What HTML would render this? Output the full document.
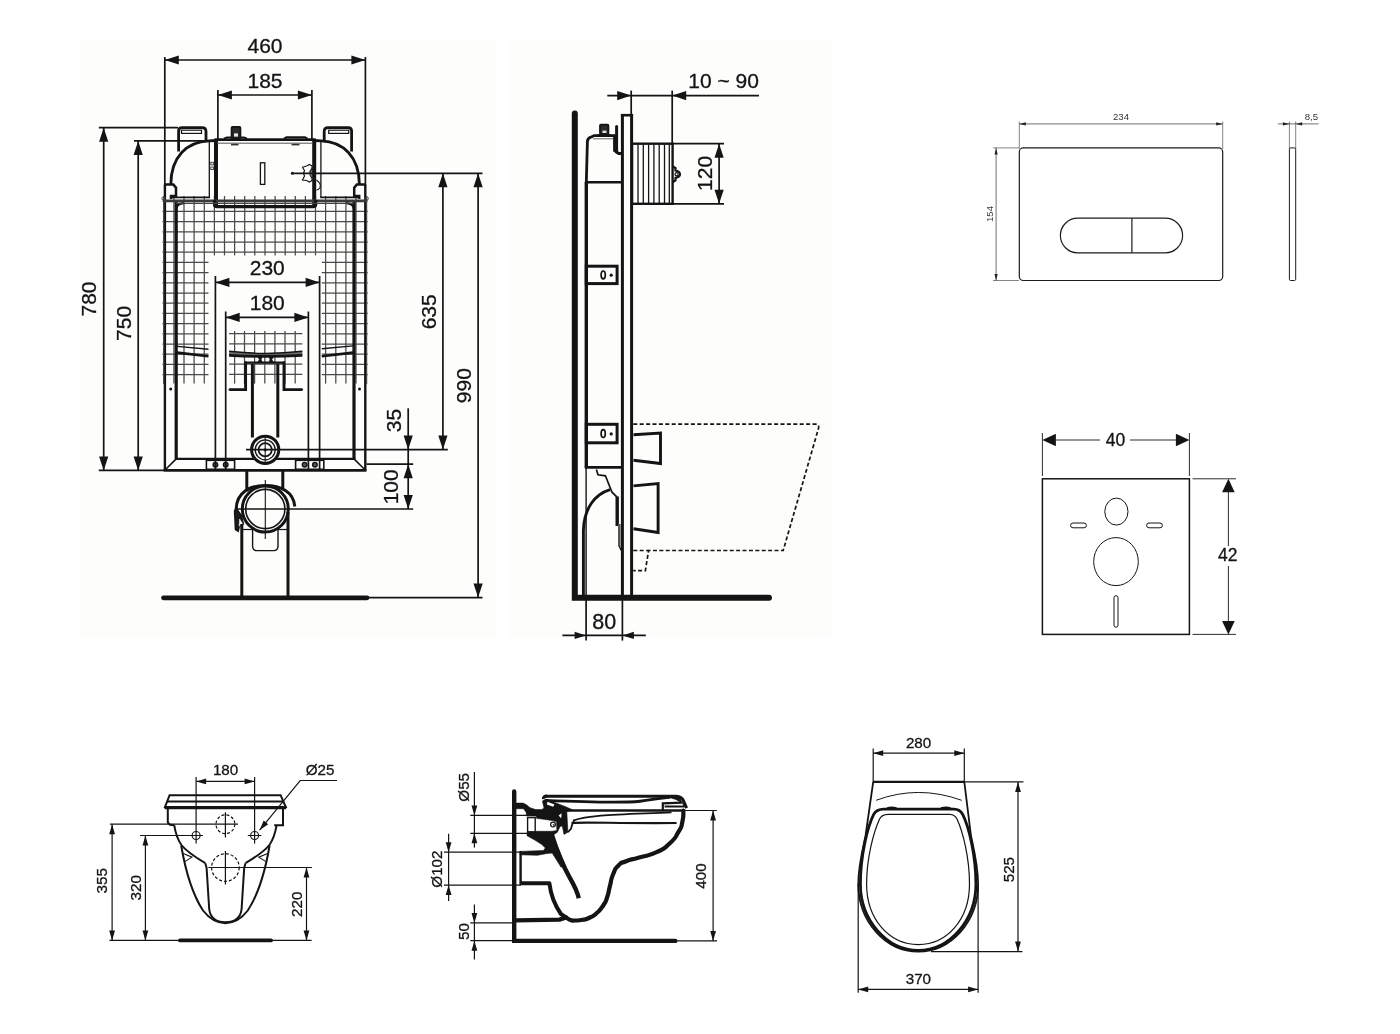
<!DOCTYPE html>
<html><head><meta charset="utf-8"><title>Technical drawing</title>
<style>
html,body{margin:0;padding:0;background:#fff;}
body{width:1400px;height:1034px;overflow:hidden;font-family:"Liberation Sans",sans-serif;}
svg{display:block;filter:blur(0.4px);}
svg text{font-family:"Liberation Sans",sans-serif;}
</style></head><body>
<svg width="1400" height="1034" viewBox="0 0 1400 1034">
<rect x="80.5" y="40" width="416.5" height="598" fill="#fdfdfc"/>
<rect x="509" y="40" width="322" height="598" fill="#fdfdfc"/>
<line x1="162.5" y1="201.2" x2="367.7" y2="201.2" stroke="#4a4a4a" stroke-width="1.25" stroke-linecap="butt" />
<line x1="162.5" y1="211.4" x2="367.7" y2="211.4" stroke="#4a4a4a" stroke-width="1.25" stroke-linecap="butt" />
<line x1="162.5" y1="221.6" x2="367.7" y2="221.6" stroke="#4a4a4a" stroke-width="1.25" stroke-linecap="butt" />
<line x1="162.5" y1="231.8" x2="367.7" y2="231.8" stroke="#4a4a4a" stroke-width="1.25" stroke-linecap="butt" />
<line x1="162.5" y1="242.0" x2="367.7" y2="242.0" stroke="#4a4a4a" stroke-width="1.25" stroke-linecap="butt" />
<line x1="162.5" y1="252.2" x2="367.7" y2="252.2" stroke="#4a4a4a" stroke-width="1.25" stroke-linecap="butt" />
<line x1="162.5" y1="262.4" x2="208.5" y2="262.4" stroke="#4a4a4a" stroke-width="1.25" stroke-linecap="butt" />
<line x1="321.8" y1="262.4" x2="367.7" y2="262.4" stroke="#4a4a4a" stroke-width="1.25" stroke-linecap="butt" />
<line x1="162.5" y1="272.6" x2="208.5" y2="272.6" stroke="#4a4a4a" stroke-width="1.25" stroke-linecap="butt" />
<line x1="321.8" y1="272.6" x2="367.7" y2="272.6" stroke="#4a4a4a" stroke-width="1.25" stroke-linecap="butt" />
<line x1="162.5" y1="282.8" x2="208.5" y2="282.8" stroke="#4a4a4a" stroke-width="1.25" stroke-linecap="butt" />
<line x1="321.8" y1="282.8" x2="367.7" y2="282.8" stroke="#4a4a4a" stroke-width="1.25" stroke-linecap="butt" />
<line x1="162.5" y1="293.0" x2="208.5" y2="293.0" stroke="#4a4a4a" stroke-width="1.25" stroke-linecap="butt" />
<line x1="321.8" y1="293.0" x2="367.7" y2="293.0" stroke="#4a4a4a" stroke-width="1.25" stroke-linecap="butt" />
<line x1="162.5" y1="303.2" x2="208.5" y2="303.2" stroke="#4a4a4a" stroke-width="1.25" stroke-linecap="butt" />
<line x1="321.8" y1="303.2" x2="367.7" y2="303.2" stroke="#4a4a4a" stroke-width="1.25" stroke-linecap="butt" />
<line x1="162.5" y1="313.4" x2="208.5" y2="313.4" stroke="#4a4a4a" stroke-width="1.25" stroke-linecap="butt" />
<line x1="321.8" y1="313.4" x2="367.7" y2="313.4" stroke="#4a4a4a" stroke-width="1.25" stroke-linecap="butt" />
<line x1="162.5" y1="323.6" x2="208.5" y2="323.6" stroke="#4a4a4a" stroke-width="1.25" stroke-linecap="butt" />
<line x1="321.8" y1="323.6" x2="367.7" y2="323.6" stroke="#4a4a4a" stroke-width="1.25" stroke-linecap="butt" />
<line x1="162.5" y1="333.8" x2="208.5" y2="333.8" stroke="#4a4a4a" stroke-width="1.25" stroke-linecap="butt" />
<line x1="321.8" y1="333.8" x2="367.7" y2="333.8" stroke="#4a4a4a" stroke-width="1.25" stroke-linecap="butt" />
<line x1="162.5" y1="344.0" x2="208.5" y2="344.0" stroke="#4a4a4a" stroke-width="1.25" stroke-linecap="butt" />
<line x1="321.8" y1="344.0" x2="367.7" y2="344.0" stroke="#4a4a4a" stroke-width="1.25" stroke-linecap="butt" />
<line x1="162.5" y1="354.2" x2="208.5" y2="354.2" stroke="#4a4a4a" stroke-width="1.25" stroke-linecap="butt" />
<line x1="321.8" y1="354.2" x2="367.7" y2="354.2" stroke="#4a4a4a" stroke-width="1.25" stroke-linecap="butt" />
<line x1="162.5" y1="364.4" x2="208.5" y2="364.4" stroke="#4a4a4a" stroke-width="1.25" stroke-linecap="butt" />
<line x1="321.8" y1="364.4" x2="367.7" y2="364.4" stroke="#4a4a4a" stroke-width="1.25" stroke-linecap="butt" />
<line x1="162.5" y1="374.6" x2="208.5" y2="374.6" stroke="#4a4a4a" stroke-width="1.25" stroke-linecap="butt" />
<line x1="321.8" y1="374.6" x2="367.7" y2="374.6" stroke="#4a4a4a" stroke-width="1.25" stroke-linecap="butt" />
<line x1="173.9" y1="196.0" x2="173.9" y2="383.6" stroke="#4a4a4a" stroke-width="1.25" stroke-linecap="butt" />
<line x1="184.0" y1="196.0" x2="184.0" y2="383.6" stroke="#4a4a4a" stroke-width="1.25" stroke-linecap="butt" />
<line x1="194.1" y1="196.0" x2="194.1" y2="383.6" stroke="#4a4a4a" stroke-width="1.25" stroke-linecap="butt" />
<line x1="204.3" y1="196.0" x2="204.3" y2="383.6" stroke="#4a4a4a" stroke-width="1.25" stroke-linecap="butt" />
<line x1="214.4" y1="196.0" x2="214.4" y2="255.4" stroke="#4a4a4a" stroke-width="1.25" stroke-linecap="butt" />
<line x1="224.5" y1="196.0" x2="224.5" y2="255.4" stroke="#4a4a4a" stroke-width="1.25" stroke-linecap="butt" />
<line x1="234.6" y1="196.0" x2="234.6" y2="255.4" stroke="#4a4a4a" stroke-width="1.25" stroke-linecap="butt" />
<line x1="244.7" y1="196.0" x2="244.7" y2="255.4" stroke="#4a4a4a" stroke-width="1.25" stroke-linecap="butt" />
<line x1="254.8" y1="196.0" x2="254.8" y2="255.4" stroke="#4a4a4a" stroke-width="1.25" stroke-linecap="butt" />
<line x1="265.0" y1="196.0" x2="265.0" y2="255.4" stroke="#4a4a4a" stroke-width="1.25" stroke-linecap="butt" />
<line x1="275.1" y1="196.0" x2="275.1" y2="255.4" stroke="#4a4a4a" stroke-width="1.25" stroke-linecap="butt" />
<line x1="285.2" y1="196.0" x2="285.2" y2="255.4" stroke="#4a4a4a" stroke-width="1.25" stroke-linecap="butt" />
<line x1="295.3" y1="196.0" x2="295.3" y2="255.4" stroke="#4a4a4a" stroke-width="1.25" stroke-linecap="butt" />
<line x1="305.4" y1="196.0" x2="305.4" y2="255.4" stroke="#4a4a4a" stroke-width="1.25" stroke-linecap="butt" />
<line x1="315.5" y1="196.0" x2="315.5" y2="255.4" stroke="#4a4a4a" stroke-width="1.25" stroke-linecap="butt" />
<line x1="325.6" y1="196.0" x2="325.6" y2="383.6" stroke="#4a4a4a" stroke-width="1.25" stroke-linecap="butt" />
<line x1="335.8" y1="196.0" x2="335.8" y2="383.6" stroke="#4a4a4a" stroke-width="1.25" stroke-linecap="butt" />
<line x1="345.9" y1="196.0" x2="345.9" y2="383.6" stroke="#4a4a4a" stroke-width="1.25" stroke-linecap="butt" />
<line x1="356.0" y1="196.0" x2="356.0" y2="383.6" stroke="#4a4a4a" stroke-width="1.25" stroke-linecap="butt" />
<line x1="234.6" y1="331.0" x2="234.6" y2="383.6" stroke="#4a4a4a" stroke-width="1.25" stroke-linecap="butt" />
<line x1="244.5" y1="331.0" x2="244.5" y2="383.6" stroke="#4a4a4a" stroke-width="1.25" stroke-linecap="butt" />
<line x1="254.6" y1="331.0" x2="254.6" y2="383.6" stroke="#4a4a4a" stroke-width="1.25" stroke-linecap="butt" />
<line x1="264.8" y1="331.0" x2="264.8" y2="383.6" stroke="#4a4a4a" stroke-width="1.25" stroke-linecap="butt" />
<line x1="274.9" y1="331.0" x2="274.9" y2="383.6" stroke="#4a4a4a" stroke-width="1.25" stroke-linecap="butt" />
<line x1="285.0" y1="331.0" x2="285.0" y2="383.6" stroke="#4a4a4a" stroke-width="1.25" stroke-linecap="butt" />
<line x1="295.2" y1="331.0" x2="295.2" y2="383.6" stroke="#4a4a4a" stroke-width="1.25" stroke-linecap="butt" />
<line x1="229.1" y1="333.5" x2="302.3" y2="333.5" stroke="#4a4a4a" stroke-width="1.25" stroke-linecap="butt" />
<line x1="229.1" y1="343.9" x2="302.3" y2="343.9" stroke="#4a4a4a" stroke-width="1.25" stroke-linecap="butt" />
<line x1="229.1" y1="353.8" x2="302.3" y2="353.8" stroke="#4a4a4a" stroke-width="1.25" stroke-linecap="butt" />
<line x1="229.1" y1="364.0" x2="302.3" y2="364.0" stroke="#4a4a4a" stroke-width="1.25" stroke-linecap="butt" />
<line x1="229.1" y1="374.4" x2="302.3" y2="374.4" stroke="#4a4a4a" stroke-width="1.25" stroke-linecap="butt" />
<line x1="164.9" y1="184.5" x2="164.9" y2="470.5" stroke="#141414" stroke-width="2.4" stroke-linecap="butt" />
<line x1="365.3" y1="184.5" x2="365.3" y2="470.5" stroke="#141414" stroke-width="2.4" stroke-linecap="butt" />
<line x1="163.6" y1="196.0" x2="163.6" y2="384.0" stroke="#4a4a4a" stroke-width="1.25" stroke-linecap="butt" />
<line x1="366.6" y1="196.0" x2="366.6" y2="384.0" stroke="#4a4a4a" stroke-width="1.25" stroke-linecap="butt" />
<line x1="176.2" y1="200.0" x2="176.2" y2="459.0" stroke="#141414" stroke-width="3.2" stroke-linecap="butt" />
<line x1="354.0" y1="200.0" x2="354.0" y2="459.0" stroke="#141414" stroke-width="3.2" stroke-linecap="butt" />
<line x1="163.7" y1="470.4" x2="366.5" y2="470.4" stroke="#141414" stroke-width="2.6" stroke-linecap="butt" />
<line x1="175.0" y1="458.9" x2="355.2" y2="458.9" stroke="#141414" stroke-width="2.4" stroke-linecap="butt" />
<line x1="176.2" y1="458.9" x2="165.5" y2="469.5" stroke="#141414" stroke-width="1.6" stroke-linecap="butt" />
<line x1="354.0" y1="458.9" x2="364.7" y2="469.5" stroke="#141414" stroke-width="1.6" stroke-linecap="butt" />
<circle cx="170.7" cy="389.0" r="1.5" stroke="#141414" stroke-width="0" fill="#141414" />
<circle cx="359.5" cy="389.0" r="1.5" stroke="#141414" stroke-width="0" fill="#141414" />
<line x1="177.1" y1="346.4" x2="208.5" y2="349.2" stroke="#141414" stroke-width="1.4" stroke-linecap="butt" />
<line x1="177.1" y1="352.6" x2="208.5" y2="356.2" stroke="#141414" stroke-width="2.6" stroke-linecap="butt" />
<line x1="353.0" y1="345.9" x2="321.8" y2="348.7" stroke="#141414" stroke-width="1.4" stroke-linecap="butt" />
<line x1="353.0" y1="352.6" x2="321.8" y2="356.2" stroke="#141414" stroke-width="2.6" stroke-linecap="butt" />
<path d="M178.6,151.5 L178.6,131 Q178.6,127.6 182.0,127.6 L202.0,127.6 Q206.0,127.6 206.0,131.5 L206.0,141" stroke="#141414" stroke-width="2.8" fill="none" />
<rect x="181.5" y="130.2" width="20.0" height="3.2" rx="0" stroke="#141414" stroke-width="1.2" fill="none"/>
<path d="M216.0,140.5 L209.0,140.8 C187.0,141.6 171.0,156.5 170.8,184.5" stroke="#141414" stroke-width="2.8" fill="none" />
<path d="M170.8,184.5 L164.9,184.5 M170.8,184.5 L173.4,184.6 L176.0,187.6 L176.0,196 L171.0,196 L171.0,199" stroke="#141414" stroke-width="2.5" fill="none" />
<line x1="209.3" y1="141.0" x2="209.3" y2="197.2" stroke="#141414" stroke-width="1.3" stroke-linecap="butt" />
<line x1="216.0" y1="140.0" x2="216.0" y2="205.0" stroke="#141414" stroke-width="4.0" stroke-linecap="butt" />
<line x1="172.0" y1="197.3" x2="210.0" y2="197.3" stroke="#141414" stroke-width="1.7" stroke-linecap="butt" />
<circle cx="163.4" cy="198.5" r="1.6" stroke="#444" stroke-width="1.0" fill="none" />
<path d="M176.2,209 Q177.0,203.5 184.0,203.2" stroke="#141414" stroke-width="2.2" fill="none" />
<path d="M351.6,151.5 L351.6,131 Q351.6,127.6 348.2,127.6 L328.2,127.6 Q324.2,127.6 324.2,131.5 L324.2,141" stroke="#141414" stroke-width="2.8" fill="none" />
<rect x="328.7" y="130.2" width="20.0" height="3.2" rx="0" stroke="#141414" stroke-width="1.2" fill="none"/>
<path d="M314.2,140.5 L321.2,140.8 C343.2,141.6 359.2,156.5 359.4,184.5" stroke="#141414" stroke-width="2.8" fill="none" />
<path d="M359.4,184.5 L365.3,184.5 M359.4,184.5 L356.8,184.6 L354.2,187.6 L354.2,196 L359.2,196 L359.2,199" stroke="#141414" stroke-width="2.5" fill="none" />
<line x1="320.9" y1="141.0" x2="320.9" y2="197.2" stroke="#141414" stroke-width="1.3" stroke-linecap="butt" />
<line x1="314.2" y1="140.0" x2="314.2" y2="205.0" stroke="#141414" stroke-width="4.0" stroke-linecap="butt" />
<line x1="358.2" y1="197.3" x2="320.2" y2="197.3" stroke="#141414" stroke-width="1.7" stroke-linecap="butt" />
<circle cx="366.8" cy="198.5" r="1.6" stroke="#444" stroke-width="1.0" fill="none" />
<path d="M354.0,209 Q353.2,203.5 346.2,203.2" stroke="#141414" stroke-width="2.2" fill="none" />
<line x1="214.5" y1="139.6" x2="315.7" y2="139.6" stroke="#141414" stroke-width="2.8" stroke-linecap="butt" />
<line x1="217.0" y1="143.2" x2="313.0" y2="143.2" stroke="#555" stroke-width="1.0" stroke-linecap="butt" />
<path d="M224,138.6 L227,137.3 L244,137.3 L247,138.6" stroke="#141414" stroke-width="1.8" fill="none" />
<path d="M284,138.6 L286.5,137.2 L305,137.2 L307.5,138.6" stroke="#141414" stroke-width="2.0" fill="none" />
<line x1="231.0" y1="144.6" x2="238.5" y2="144.6" stroke="#333" stroke-width="1.6" stroke-linecap="butt" />
<line x1="291.5" y1="144.6" x2="299.5" y2="144.6" stroke="#333" stroke-width="1.6" stroke-linecap="butt" />
<rect x="231.6" y="126.8" width="8.8" height="11.5" rx="1" stroke="#141414" stroke-width="1.8" fill="#2a2a2a"/>
<rect x="234.0" y="133.4" width="4.0" height="3.2" rx="0" stroke="#141414" stroke-width="0" fill="#e8e8e8"/>
<line x1="163.0" y1="200.9" x2="367.0" y2="200.9" stroke="#3a3a3a" stroke-width="2.6" stroke-linecap="butt" />
<path d="M214.5,200 L214.5,204.5 Q214.5,206.6 217,206.6 L313.2,206.6 Q315.7,206.6 315.7,204.5 L315.7,200" stroke="#141414" stroke-width="3.2" fill="none" />
<line x1="176.0" y1="203.4" x2="354.0" y2="203.4" stroke="#444" stroke-width="1.4" stroke-linecap="butt" />
<rect x="260.4" y="162.8" width="4.4" height="21.6" rx="0" stroke="#141414" stroke-width="1.3" fill="none"/>
<circle cx="292.4" cy="173.3" r="1.5" stroke="#141414" stroke-width="0" fill="#141414" />
<path d="M302.5,167.2 L306.5,166 L309.5,164.5 L312,166 L312,180.5 L309.5,182 L306.5,180.5 L302.5,180 L304.5,176 L303.5,173.3 L304.5,170.5 Z" stroke="#141414" stroke-width="1.2" fill="none" />
<path d="M312,168.5 Q307.5,173.3 312,178" stroke="#141414" stroke-width="1.1" fill="none" />
<path d="M316.5,180 Q321.5,183.5 320,187.5 Q318.5,190 316.5,190" stroke="#141414" stroke-width="1.1" fill="none" />
<rect x="210.8" y="162.3" width="2.6" height="2.6" rx="0" stroke="#333" stroke-width="0.9" fill="none"/>
<rect x="210.8" y="167.0" width="2.6" height="2.6" rx="0" stroke="#333" stroke-width="0.9" fill="none"/>
<path d="M229.1,351.3 Q265.7,355.6 302.3,351.3 L302.3,355.6 Q265.7,357.4 229.1,355.6 Z" stroke="none" stroke-width="0" fill="#6a6a6a" />
<path d="M229.1,351.3 Q265.7,355.6 302.3,351.3" stroke="#141414" stroke-width="1.5" fill="none" />
<path d="M229.1,355.4 Q265.7,357.4 302.3,355.4" stroke="#141414" stroke-width="2.6" fill="none" />
<line x1="245.0" y1="362.6" x2="284.6" y2="362.6" stroke="#141414" stroke-width="2.4" stroke-linecap="butt" />
<path d="M257.6,356.8 L262.2,356.8 L261.2,359.6 L262.2,362.4 L257.6,362.4 L259.4,359.6 Z" stroke="#141414" stroke-width="0.6" fill="#141414" />
<path d="M273.6,356.8 L269.0,356.8 L270.0,359.6 L269.0,362.4 L273.6,362.4 L271.8,359.6 Z" stroke="#141414" stroke-width="0.6" fill="#141414" />
<path d="M245.6,362.6 L245.6,389.6 L230,389.6" stroke="#141414" stroke-width="2.9" fill="none" stroke-linecap="round"/>
<path d="M284.0,362.6 L284.0,389.6 L301.6,389.6" stroke="#141414" stroke-width="2.9" fill="none" stroke-linecap="round"/>
<line x1="252.4" y1="364.0" x2="252.4" y2="437.5" stroke="#141414" stroke-width="3.0" stroke-linecap="butt" />
<line x1="277.8" y1="364.0" x2="277.8" y2="437.5" stroke="#141414" stroke-width="3.0" stroke-linecap="butt" />
<circle cx="265.2" cy="449.8" r="13.6" stroke="#141414" stroke-width="3.0" fill="#fdfdfc" />
<circle cx="265.2" cy="449.8" r="10.0" stroke="#141414" stroke-width="1.3" fill="none" />
<circle cx="265.2" cy="449.8" r="6.6" stroke="#141414" stroke-width="1.7" fill="none" />
<circle cx="265.2" cy="449.8" r="1.6" stroke="#141414" stroke-width="0" fill="#141414" />
<line x1="265.2" y1="436.0" x2="265.2" y2="463.5" stroke="#141414" stroke-width="1.1" stroke-linecap="butt" />
<rect x="206.4" y="460.3" width="28.2" height="9.0" rx="0" stroke="#141414" stroke-width="1.6" fill="none"/>
<rect x="295.6" y="460.3" width="28.2" height="9.0" rx="0" stroke="#141414" stroke-width="1.6" fill="none"/>
<circle cx="215.4" cy="464.7" r="2.3" stroke="#141414" stroke-width="1.4" fill="#555" />
<circle cx="225.7" cy="464.7" r="2.3" stroke="#141414" stroke-width="1.4" fill="#555" />
<circle cx="304.6" cy="464.7" r="2.3" stroke="#141414" stroke-width="1.4" fill="#555" />
<circle cx="314.9" cy="464.7" r="2.3" stroke="#141414" stroke-width="1.4" fill="#555" />
<line x1="246.8" y1="470.4" x2="246.8" y2="490.0" stroke="#141414" stroke-width="3.0" stroke-linecap="butt" />
<line x1="282.8" y1="470.4" x2="282.8" y2="490.0" stroke="#141414" stroke-width="3.0" stroke-linecap="butt" />
<path d="M236.2,509 C236.5,492 250,485.6 265.3,485.6 C281,485.6 293.5,492 294.8,506.5" stroke="#141414" stroke-width="3.0" fill="none" />
<circle cx="265.3" cy="509.0" r="23.0" stroke="#141414" stroke-width="3.0" fill="#fdfdfc" />
<circle cx="265.3" cy="509.0" r="19.6" stroke="#141414" stroke-width="1.6" fill="none" />
<line x1="265.3" y1="480.0" x2="265.3" y2="539.0" stroke="#141414" stroke-width="1.1" stroke-linecap="butt" />
<path d="M236.0,508 L234.6,511 L235.5,529.5 L238.2,531.2 L239.2,526.5 L243.3,523.8 L241.3,515.5 Z" stroke="#141414" stroke-width="1.6" fill="#1a1a1a" />
<path d="M239.6,519 L242.4,523.4 L239.2,526.2 Z" stroke="#fdfdfc" stroke-width="0.5" fill="#fdfdfc" />
<line x1="241.8" y1="524.0" x2="241.8" y2="597.0" stroke="#141414" stroke-width="3.0" stroke-linecap="butt" />
<line x1="288.0" y1="512.0" x2="288.0" y2="597.0" stroke="#141414" stroke-width="3.0" stroke-linecap="butt" />
<line x1="241.6" y1="529.5" x2="252.5" y2="529.5" stroke="#141414" stroke-width="1.2" stroke-linecap="butt" />
<line x1="278.0" y1="529.5" x2="288.0" y2="529.5" stroke="#141414" stroke-width="1.2" stroke-linecap="butt" />
<path d="M252.6,528 L252.6,546 Q252.6,550.6 257,550.6 L273.6,550.6 Q278,550.6 278,546 L278,528" stroke="#141414" stroke-width="1.4" fill="none" />
<line x1="163.5" y1="597.8" x2="367.0" y2="597.8" stroke="#141414" stroke-width="4.8" stroke-linecap="round" />
<line x1="164.8" y1="57.0" x2="164.8" y2="186.0" stroke="#141414" stroke-width="1.7" stroke-linecap="butt" />
<line x1="365.4" y1="57.0" x2="365.4" y2="186.0" stroke="#141414" stroke-width="1.7" stroke-linecap="butt" />
<line x1="217.9" y1="90.0" x2="217.9" y2="141.0" stroke="#141414" stroke-width="1.7" stroke-linecap="butt" />
<line x1="311.9" y1="90.0" x2="311.9" y2="141.0" stroke="#141414" stroke-width="1.7" stroke-linecap="butt" />
<line x1="164.8" y1="60.0" x2="365.4" y2="60.0" stroke="#141414" stroke-width="1.7" stroke-linecap="butt" />
<polygon points="164.8,60.0 178.8,55.4 178.8,64.6" fill="#141414"/>
<polygon points="365.4,60.0 351.4,64.6 351.4,55.4" fill="#141414"/>
<line x1="217.9" y1="95.0" x2="311.9" y2="95.0" stroke="#141414" stroke-width="1.7" stroke-linecap="butt" />
<polygon points="217.9,95.0 231.9,90.4 231.9,99.6" fill="#141414"/>
<polygon points="311.9,95.0 297.9,99.6 297.9,90.4" fill="#141414"/>
<text x="265.0" y="52.7" font-size="21" text-anchor="middle" fill="#141414"  stroke="#141414" stroke-width="0.3">460</text>
<text x="265.0" y="88.0" font-size="21" text-anchor="middle" fill="#141414"  stroke="#141414" stroke-width="0.3">185</text>
<line x1="215.4" y1="276.0" x2="215.4" y2="470.0" stroke="#141414" stroke-width="1.7" stroke-linecap="butt" />
<line x1="319.6" y1="276.0" x2="319.6" y2="470.0" stroke="#141414" stroke-width="1.7" stroke-linecap="butt" />
<line x1="225.7" y1="311.5" x2="225.7" y2="470.0" stroke="#141414" stroke-width="1.7" stroke-linecap="butt" />
<line x1="308.4" y1="311.5" x2="308.4" y2="470.0" stroke="#141414" stroke-width="1.7" stroke-linecap="butt" />
<line x1="215.4" y1="282.4" x2="319.6" y2="282.4" stroke="#141414" stroke-width="1.7" stroke-linecap="butt" />
<polygon points="215.4,282.4 229.4,277.8 229.4,287.0" fill="#141414"/>
<polygon points="319.6,282.4 305.6,287.0 305.6,277.8" fill="#141414"/>
<line x1="225.7" y1="317.4" x2="308.4" y2="317.4" stroke="#141414" stroke-width="1.7" stroke-linecap="butt" />
<polygon points="225.7,317.4 239.7,312.8 239.7,322.0" fill="#141414"/>
<polygon points="308.4,317.4 294.4,322.0 294.4,312.8" fill="#141414"/>
<text x="267.3" y="275.4" font-size="21" text-anchor="middle" fill="#141414"  stroke="#141414" stroke-width="0.3">230</text>
<text x="267.3" y="310.2" font-size="21" text-anchor="middle" fill="#141414"  stroke="#141414" stroke-width="0.3">180</text>
<line x1="98.8" y1="127.7" x2="178.0" y2="127.7" stroke="#141414" stroke-width="1.7" stroke-linecap="butt" />
<line x1="134.0" y1="140.9" x2="208.0" y2="140.9" stroke="#141414" stroke-width="1.7" stroke-linecap="butt" />
<line x1="98.8" y1="470.4" x2="164.0" y2="470.4" stroke="#141414" stroke-width="1.7" stroke-linecap="butt" />
<line x1="103.7" y1="127.7" x2="103.7" y2="470.4" stroke="#141414" stroke-width="1.7" stroke-linecap="butt" />
<polygon points="103.7,127.7 108.3,141.7 99.1,141.7" fill="#141414"/>
<polygon points="103.7,470.4 99.1,456.4 108.3,456.4" fill="#141414"/>
<line x1="138.2" y1="140.9" x2="138.2" y2="470.4" stroke="#141414" stroke-width="1.7" stroke-linecap="butt" />
<polygon points="138.2,140.9 142.8,154.9 133.6,154.9" fill="#141414"/>
<polygon points="138.2,470.4 133.6,456.4 142.8,456.4" fill="#141414"/>
<text x="96.2" y="299.0" font-size="21" text-anchor="middle" fill="#141414" transform="rotate(-90 96.2 299.0)"  stroke="#141414" stroke-width="0.3">780</text>
<text x="131.3" y="323.4" font-size="21" text-anchor="middle" fill="#141414" transform="rotate(-90 131.3 323.4)"  stroke="#141414" stroke-width="0.3">750</text>
<line x1="293.0" y1="173.3" x2="482.5" y2="173.3" stroke="#141414" stroke-width="1.7" stroke-linecap="butt" />
<line x1="442.9" y1="173.3" x2="442.9" y2="449.6" stroke="#141414" stroke-width="1.7" stroke-linecap="butt" />
<polygon points="442.9,173.3 447.5,187.3 438.3,187.3" fill="#141414"/>
<polygon points="442.9,449.6 438.3,435.6 447.5,435.6" fill="#141414"/>
<line x1="478.1" y1="173.3" x2="478.1" y2="597.6" stroke="#141414" stroke-width="1.7" stroke-linecap="butt" />
<polygon points="478.1,173.3 482.7,187.3 473.5,187.3" fill="#141414"/>
<polygon points="478.1,597.6 473.5,583.6 482.7,583.6" fill="#141414"/>
<line x1="367.0" y1="597.6" x2="482.5" y2="597.6" stroke="#141414" stroke-width="1.7" stroke-linecap="butt" />
<line x1="246.0" y1="449.6" x2="447.8" y2="449.6" stroke="#141414" stroke-width="1.7" stroke-linecap="butt" />
<line x1="366.5" y1="464.2" x2="413.2" y2="464.2" stroke="#141414" stroke-width="1.7" stroke-linecap="butt" />
<line x1="236.0" y1="509.1" x2="413.2" y2="509.1" stroke="#141414" stroke-width="1.5" stroke-linecap="butt" />
<line x1="408.2" y1="408.3" x2="408.2" y2="509.1" stroke="#141414" stroke-width="1.7" stroke-linecap="butt" />
<polygon points="408.2,449.6 403.6,435.6 412.8,435.6" fill="#141414"/>
<polygon points="408.2,464.2 412.8,478.2 403.6,478.2" fill="#141414"/>
<polygon points="408.2,509.1 403.6,495.1 412.8,495.1" fill="#141414"/>
<text x="436.3" y="311.8" font-size="21" text-anchor="middle" fill="#141414" transform="rotate(-90 436.3 311.8)"  stroke="#141414" stroke-width="0.3">635</text>
<text x="471.5" y="385.7" font-size="21" text-anchor="middle" fill="#141414" transform="rotate(-90 471.5 385.7)"  stroke="#141414" stroke-width="0.3">990</text>
<text x="400.6" y="420.5" font-size="21" text-anchor="middle" fill="#141414" transform="rotate(-90 400.6 420.5)"  stroke="#141414" stroke-width="0.3">35</text>
<text x="398.2" y="486.8" font-size="21" text-anchor="middle" fill="#141414" transform="rotate(-90 398.2 486.8)"  stroke="#141414" stroke-width="0.3">100</text>
<path d="M574.8,113.6 L574.8,597.8 L769.0,597.8" stroke="#141414" stroke-width="6.0" fill="none" stroke-linecap="round" stroke-linejoin="miter"/>
<line x1="622.4" y1="114.5" x2="622.4" y2="597.0" stroke="#141414" stroke-width="3.0" stroke-linecap="butt" />
<line x1="631.6" y1="114.5" x2="631.6" y2="597.0" stroke="#141414" stroke-width="3.0" stroke-linecap="butt" />
<line x1="620.9" y1="115.2" x2="633.1" y2="115.2" stroke="#141414" stroke-width="2.6" stroke-linecap="butt" />
<line x1="586.3" y1="182.0" x2="586.3" y2="467.4" stroke="#141414" stroke-width="3.4" stroke-linecap="butt" />
<line x1="586.1" y1="467.4" x2="586.1" y2="597.0" stroke="#141414" stroke-width="1.4" stroke-linecap="butt" />
<line x1="584.8" y1="467.4" x2="622.4" y2="467.4" stroke="#141414" stroke-width="2.8" stroke-linecap="butt" />
<path d="M586.3,183 L587.4,141.5 Q587.8,137.6 591.5,136.9 L594,135.6 L614.5,135.6 L614.5,150.5 L618.6,153.5 L621,153.5" stroke="#141414" stroke-width="2.8" fill="none" />
<line x1="585.0" y1="182.3" x2="621.0" y2="182.3" stroke="#141414" stroke-width="2.6" stroke-linecap="butt" />
<line x1="593.0" y1="138.8" x2="613.0" y2="138.8" stroke="#666" stroke-width="1.0" stroke-linecap="butt" />
<rect x="600.0" y="124.6" width="8.4" height="9.6" rx="1" stroke="#141414" stroke-width="1.8" fill="#2a2a2a"/>
<rect x="602.5" y="130.6" width="4.0" height="2.4" rx="0" stroke="#141414" stroke-width="0" fill="#ddd"/>
<line x1="597.5" y1="135.2" x2="611.0" y2="135.2" stroke="#141414" stroke-width="2.2" stroke-linecap="butt" />
<line x1="616.6" y1="126.5" x2="616.6" y2="152.0" stroke="#141414" stroke-width="3.0" stroke-linecap="round" />
<rect x="632.0" y="143.7" width="40.6" height="60.1" rx="0" stroke="#141414" stroke-width="2.4" fill="none"/>
<line x1="638.0" y1="144.5" x2="638.0" y2="203.0" stroke="#141414" stroke-width="1.3" stroke-linecap="butt" />
<line x1="643.3" y1="144.5" x2="643.3" y2="203.0" stroke="#141414" stroke-width="1.3" stroke-linecap="butt" />
<line x1="648.6" y1="144.5" x2="648.6" y2="203.0" stroke="#141414" stroke-width="1.3" stroke-linecap="butt" />
<line x1="653.9" y1="144.5" x2="653.9" y2="203.0" stroke="#141414" stroke-width="1.3" stroke-linecap="butt" />
<line x1="659.2" y1="144.5" x2="659.2" y2="203.0" stroke="#141414" stroke-width="1.3" stroke-linecap="butt" />
<line x1="664.5" y1="144.5" x2="664.5" y2="203.0" stroke="#141414" stroke-width="1.3" stroke-linecap="butt" />
<line x1="669.3" y1="144.5" x2="669.3" y2="203.0" stroke="#141414" stroke-width="1.3" stroke-linecap="butt" />
<path d="M673,166.5 L675.5,168 L675.5,170.5 Q680,171.5 680,174.2 Q680,177 675.5,177.8 L675.5,180.5 L673,182" stroke="#141414" stroke-width="2.2" fill="none" />
<circle cx="676.6" cy="174.2" r="1.6" stroke="#141414" stroke-width="1.2" fill="none" />
<rect x="586.3" y="266.2" width="30.8" height="17.4" rx="0" stroke="#141414" stroke-width="3.0" fill="none"/>
<ellipse cx="603.2" cy="274.9" rx="2.1" ry="3.9" stroke="#141414" stroke-width="1.7" fill="none" />
<circle cx="611.2" cy="275.2" r="1.6" stroke="#141414" stroke-width="0" fill="#141414" />
<rect x="586.3" y="424.3" width="30.8" height="18.5" rx="0" stroke="#141414" stroke-width="3.0" fill="none"/>
<ellipse cx="603.2" cy="433.6" rx="2.1" ry="3.9" stroke="#141414" stroke-width="1.7" fill="none" />
<circle cx="611.2" cy="433.9" r="1.6" stroke="#141414" stroke-width="0" fill="#141414" />
<path d="M583.4,597 L583.4,530 C584.2,508 595,494.2 610,489.6" stroke="#141414" stroke-width="2.9" fill="none" />
<path d="M596.4,469.6 L598,474.8 L605.4,475.8 L612,492.2 L617,497.2" stroke="#141414" stroke-width="1.7" fill="none" />
<line x1="617.2" y1="496.5" x2="617.2" y2="526.0" stroke="#141414" stroke-width="3.4" stroke-linecap="butt" />
<line x1="619.3" y1="524.0" x2="619.3" y2="546.5" stroke="#555" stroke-width="2.6" stroke-linecap="butt" />
<path d="M619.3,546 L621,550.2" stroke="#141414" stroke-width="1.4" fill="none" />
<path d="M633.5,434.7 L660.5,433.0 L660.5,463.5 L633.5,460.2" stroke="#141414" stroke-width="2.9" fill="none" />
<path d="M633.5,485.9 L658.1,483.5 L658.1,532.5 L633.5,528.8" stroke="#141414" stroke-width="2.9" fill="none" />
<path d="M633.3,424.2 L815.5,424.2 Q819.2,424.4 818.6,428 L783.2,550.5 L648.6,550.5 L645.4,570.6 L633.3,570.6" stroke="#141414" stroke-width="1.7" fill="none" stroke-dasharray="4 2.4"/>
<line x1="633.3" y1="550.5" x2="648.6" y2="550.5" stroke="#141414" stroke-width="1.7" stroke-linecap="butt" stroke-dasharray="4 2.4"/>
<line x1="631.2" y1="90.6" x2="631.2" y2="115.0" stroke="#141414" stroke-width="1.7" stroke-linecap="butt" />
<line x1="672.2" y1="90.6" x2="672.2" y2="144.0" stroke="#141414" stroke-width="1.7" stroke-linecap="butt" />
<line x1="607.3" y1="95.6" x2="759.0" y2="95.6" stroke="#141414" stroke-width="1.7" stroke-linecap="butt" />
<polygon points="631.2,95.6 617.2,100.2 617.2,91.0" fill="#141414"/>
<polygon points="672.2,95.6 686.2,91.0 686.2,100.2" fill="#141414"/>
<text x="688.3" y="87.9" font-size="21" text-anchor="start" fill="#141414"  stroke="#141414" stroke-width="0.3">10 ~ 90</text>
<line x1="672.6" y1="143.7" x2="724.0" y2="143.7" stroke="#141414" stroke-width="1.7" stroke-linecap="butt" />
<line x1="672.6" y1="203.8" x2="724.0" y2="203.8" stroke="#141414" stroke-width="1.7" stroke-linecap="butt" />
<line x1="719.1" y1="143.7" x2="719.1" y2="203.8" stroke="#141414" stroke-width="1.7" stroke-linecap="butt" />
<polygon points="719.1,143.7 723.7,157.7 714.5,157.7" fill="#141414"/>
<polygon points="719.1,203.8 714.5,189.8 723.7,189.8" fill="#141414"/>
<text x="712.3" y="173.4" font-size="21" text-anchor="middle" fill="#141414" transform="rotate(-90 712.3 173.4)"  stroke="#141414" stroke-width="0.3">120</text>
<line x1="586.1" y1="598.0" x2="586.1" y2="640.6" stroke="#141414" stroke-width="1.7" stroke-linecap="butt" />
<line x1="622.4" y1="598.0" x2="622.4" y2="640.6" stroke="#141414" stroke-width="1.7" stroke-linecap="butt" />
<line x1="562.4" y1="635.4" x2="645.8" y2="635.4" stroke="#141414" stroke-width="1.6" stroke-linecap="butt" />
<polygon points="586.1,635.4 574.6,639.0 574.6,631.8" fill="#141414"/>
<polygon points="622.4,635.4 633.9,631.8 633.9,639.0" fill="#141414"/>
<text x="604.2" y="628.6" font-size="21.5" text-anchor="middle" fill="#141414"  stroke="#141414" stroke-width="0.3">80</text>
<rect x="1019.3" y="147.9" width="203.4" height="132.6" rx="4" stroke="#1c1c1c" stroke-width="1.2" fill="none"/>
<rect x="1060.4" y="218.2" width="122.2" height="34.6" rx="17.3" stroke="#1c1c1c" stroke-width="1.2" fill="none"/>
<line x1="1131.9" y1="218.2" x2="1131.9" y2="252.8" stroke="#1c1c1c" stroke-width="1.2" stroke-linecap="butt" />
<line x1="1019.3" y1="121.5" x2="1019.3" y2="149.0" stroke="#333" stroke-width="0.6" stroke-linecap="butt" />
<line x1="1222.7" y1="121.5" x2="1222.7" y2="149.0" stroke="#333" stroke-width="0.6" stroke-linecap="butt" />
<line x1="1019.3" y1="123.9" x2="1222.7" y2="123.9" stroke="#333" stroke-width="0.7" stroke-linecap="butt" />
<polygon points="1019.3,123.9 1025.8,122.3 1025.8,125.5" fill="#222"/>
<polygon points="1222.7,123.9 1216.2,125.5 1216.2,122.3" fill="#222"/>
<text x="1121.0" y="120.4" font-size="9.6" text-anchor="middle" fill="#333" >234</text>
<line x1="993.0" y1="147.9" x2="1019.0" y2="147.9" stroke="#333" stroke-width="0.6" stroke-linecap="butt" />
<line x1="993.0" y1="280.5" x2="1019.0" y2="280.5" stroke="#333" stroke-width="0.6" stroke-linecap="butt" />
<line x1="996.1" y1="147.9" x2="996.1" y2="280.5" stroke="#333" stroke-width="0.7" stroke-linecap="butt" />
<polygon points="996.1,147.9 997.7,154.4 994.5,154.4" fill="#222"/>
<polygon points="996.1,280.5 994.5,274.0 997.7,274.0" fill="#222"/>
<text x="993.3" y="214.0" font-size="9.6" text-anchor="middle" fill="#333" transform="rotate(-90 993.3 214.0)" >154</text>
<rect x="1289.4" y="147.9" width="6.3" height="132.6" rx="1.2" stroke="#1c1c1c" stroke-width="1.0" fill="none"/>
<line x1="1289.4" y1="121.5" x2="1289.4" y2="149.0" stroke="#333" stroke-width="0.6" stroke-linecap="butt" />
<line x1="1295.7" y1="121.5" x2="1295.7" y2="149.0" stroke="#333" stroke-width="0.6" stroke-linecap="butt" />
<line x1="1278.0" y1="123.9" x2="1318.5" y2="123.9" stroke="#333" stroke-width="0.7" stroke-linecap="butt" />
<polygon points="1289.4,123.9 1282.9,125.5 1282.9,122.3" fill="#222"/>
<polygon points="1295.7,123.9 1302.2,122.3 1302.2,125.5" fill="#222"/>
<text x="1304.8" y="120.4" font-size="9.6" text-anchor="start" fill="#333" >8,5</text>
<rect x="1042.4" y="478.8" width="147.0" height="155.6" rx="0" stroke="#141414" stroke-width="1.5" fill="none"/>
<ellipse cx="1116.4" cy="511.6" rx="11.6" ry="13.5" stroke="#141414" stroke-width="1.0" fill="none" />
<rect x="1070.6" y="523.0" width="15.8" height="4.8" rx="2.4" stroke="#141414" stroke-width="1.0" fill="none"/>
<rect x="1146.6" y="523.0" width="15.8" height="4.8" rx="2.4" stroke="#141414" stroke-width="1.0" fill="none"/>
<ellipse cx="1116.0" cy="561.6" rx="22.3" ry="24.0" stroke="#141414" stroke-width="1.0" fill="none" />
<rect x="1114.0" y="595.7" width="4.0" height="31.5" rx="2.0" stroke="#141414" stroke-width="1.0" fill="none"/>
<line x1="1042.4" y1="433.0" x2="1042.4" y2="476.0" stroke="#141414" stroke-width="0.9" stroke-linecap="butt" />
<line x1="1189.4" y1="433.0" x2="1189.4" y2="476.0" stroke="#141414" stroke-width="0.9" stroke-linecap="butt" />
<line x1="1054.0" y1="440.0" x2="1100.0" y2="440.0" stroke="#141414" stroke-width="0.9" stroke-linecap="butt" />
<line x1="1130.0" y1="440.0" x2="1178.0" y2="440.0" stroke="#141414" stroke-width="0.9" stroke-linecap="butt" />
<polygon points="1042.4,440.0 1055.9,433.7 1055.9,446.3" fill="#141414"/>
<polygon points="1189.4,440.0 1175.9,446.3 1175.9,433.7" fill="#141414"/>
<text x="1115.6" y="446.2" font-size="17.5" text-anchor="middle" fill="#141414"  stroke="#141414" stroke-width="0.3">40</text>
<line x1="1192.6" y1="478.8" x2="1236.0" y2="478.8" stroke="#141414" stroke-width="0.9" stroke-linecap="butt" />
<line x1="1192.6" y1="634.4" x2="1236.0" y2="634.4" stroke="#141414" stroke-width="0.9" stroke-linecap="butt" />
<line x1="1228.4" y1="490.0" x2="1228.4" y2="546.0" stroke="#141414" stroke-width="0.9" stroke-linecap="butt" />
<line x1="1228.4" y1="566.0" x2="1228.4" y2="622.0" stroke="#141414" stroke-width="0.9" stroke-linecap="butt" />
<polygon points="1228.4,478.8 1234.7,492.3 1222.1,492.3" fill="#141414"/>
<polygon points="1228.4,634.4 1222.1,620.9 1234.7,620.9" fill="#141414"/>
<text x="1227.8" y="561.2" font-size="17.5" text-anchor="middle" fill="#141414"  stroke="#141414" stroke-width="0.3">42</text>
<path d="M169.6,795.2 L280.6,795.2 L285.8,807.0 L165.0,807.0 Z" stroke="#141414" stroke-width="2.0" fill="none" />
<line x1="166.8" y1="801.5" x2="283.6" y2="801.5" stroke="#141414" stroke-width="1.8" stroke-linecap="butt" />
<line x1="164.6" y1="807.8" x2="286.2" y2="807.8" stroke="#141414" stroke-width="2.8" stroke-linecap="butt" />
<path d="M167.8,809 L167.8,822.5 L170,824.8 L174.2,825.2" stroke="#141414" stroke-width="2.0" fill="none" />
<path d="M283.0,809 L283.0,825.2 L274.2,825.2" stroke="#141414" stroke-width="2.0" fill="none" />
<path d="M174.2,825.2 C175.5,833 177.5,839.5 181.4,845 C186,851 195,857 205.3,863.2" stroke="#141414" stroke-width="2.0" fill="none" />
<path d="M276.6,825.2 C275.3,833 273.3,839.5 269.4,845 C264.8,851 255.8,857 245.5,863.2" stroke="#141414" stroke-width="2.0" fill="none" />
<path d="M205.3,863.2 L206.6,868 L209.2,909 Q210.5,921.8 225.4,922.2 Q240.3,921.8 241.6,909 L244.2,868 L245.5,863.2" stroke="#141414" stroke-width="2.0" fill="none" />
<path d="M181.2,845.5 C185,868 191,892 203,910.5 C210,919.5 217,923.2 225.4,923.2 C233.8,923.2 240.8,919.5 247.8,910.5 C259.8,892 265.8,868 269.6,845.5" stroke="#141414" stroke-width="2.0" fill="none" />
<path d="M183.2,853.6 L192.0,857.2 L184.8,861.6" stroke="#141414" stroke-width="1.1" fill="none" />
<path d="M267.6,853.6 L258.8,857.2 L266.0,861.6" stroke="#141414" stroke-width="1.1" fill="none" />
<circle cx="225.4" cy="824.2" r="9.4" stroke="#141414" stroke-width="1.2" fill="none" stroke-dasharray="3 2"/>
<line x1="225.4" y1="812.2" x2="225.4" y2="837.6" stroke="#141414" stroke-width="1.2" stroke-linecap="butt" />
<circle cx="225.4" cy="867.5" r="13.8" stroke="#141414" stroke-width="1.2" fill="none" stroke-dasharray="3 2"/>
<line x1="225.4" y1="851.0" x2="225.4" y2="884.5" stroke="#141414" stroke-width="1.2" stroke-linecap="butt" />
<circle cx="196.1" cy="835.5" r="4.0" stroke="#141414" stroke-width="1.1" fill="none" />
<line x1="189.3" y1="835.5" x2="202.9" y2="835.5" stroke="#141414" stroke-width="1.0" stroke-linecap="butt" />
<circle cx="254.6" cy="835.5" r="4.0" stroke="#141414" stroke-width="1.1" fill="none" />
<line x1="247.8" y1="835.5" x2="261.4" y2="835.5" stroke="#141414" stroke-width="1.0" stroke-linecap="butt" />
<line x1="109.5" y1="940.4" x2="311.6" y2="940.4" stroke="#141414" stroke-width="1.1" stroke-linecap="butt" />
<line x1="180.0" y1="940.4" x2="271.0" y2="940.4" stroke="#141414" stroke-width="3.8" stroke-linecap="round" />
<line x1="196.1" y1="777.0" x2="196.1" y2="843.6" stroke="#141414" stroke-width="1.2" stroke-linecap="butt" />
<line x1="254.6" y1="777.0" x2="254.6" y2="843.6" stroke="#141414" stroke-width="1.2" stroke-linecap="butt" />
<line x1="196.1" y1="781.4" x2="254.6" y2="781.4" stroke="#141414" stroke-width="1.2" stroke-linecap="butt" />
<polygon points="196.1,781.4 206.1,778.5 206.1,784.3" fill="#141414"/>
<polygon points="254.6,781.4 244.6,784.3 244.6,778.5" fill="#141414"/>
<text x="225.6" y="774.6" font-size="15.2" text-anchor="middle" fill="#141414"  stroke="#141414" stroke-width="0.3">180</text>
<line x1="110.0" y1="824.2" x2="238.0" y2="824.2" stroke="#141414" stroke-width="1.2" stroke-linecap="butt" />
<line x1="140.0" y1="835.5" x2="201.5" y2="835.5" stroke="#141414" stroke-width="1.2" stroke-linecap="butt" />
<line x1="112.1" y1="824.2" x2="112.1" y2="940.4" stroke="#141414" stroke-width="1.2" stroke-linecap="butt" />
<polygon points="112.1,824.2 115.0,834.2 109.2,834.2" fill="#141414"/>
<polygon points="112.1,940.4 109.2,930.4 115.0,930.4" fill="#141414"/>
<line x1="145.4" y1="835.5" x2="145.4" y2="940.4" stroke="#141414" stroke-width="1.2" stroke-linecap="butt" />
<polygon points="145.4,835.5 148.3,845.5 142.5,845.5" fill="#141414"/>
<polygon points="145.4,940.4 142.5,930.4 148.3,930.4" fill="#141414"/>
<text x="107.3" y="880.8" font-size="15.2" text-anchor="middle" fill="#141414" transform="rotate(-90 107.3 880.8)"  stroke="#141414" stroke-width="0.3">355</text>
<text x="140.6" y="887.8" font-size="15.2" text-anchor="middle" fill="#141414" transform="rotate(-90 140.6 887.8)"  stroke="#141414" stroke-width="0.3">320</text>
<line x1="208.4" y1="867.5" x2="312.0" y2="867.5" stroke="#141414" stroke-width="1.2" stroke-linecap="butt" />
<line x1="306.5" y1="867.5" x2="306.5" y2="940.4" stroke="#141414" stroke-width="1.2" stroke-linecap="butt" />
<polygon points="306.5,867.5 309.4,877.5 303.6,877.5" fill="#141414"/>
<polygon points="306.5,940.4 303.6,930.4 309.4,930.4" fill="#141414"/>
<text x="302.3" y="904.2" font-size="15.2" text-anchor="middle" fill="#141414" transform="rotate(-90 302.3 904.2)"  stroke="#141414" stroke-width="0.3">220</text>
<path d="M259.6,830.2 L300.2,780.5 L337,780.5" stroke="#141414" stroke-width="1.2" fill="none" />
<polygon points="259.6,830.2 263.7,820.6 268.2,824.3" fill="#141414"/>
<text x="305.8" y="775.2" font-size="15.2" text-anchor="start" fill="#141414"  stroke="#141414" stroke-width="0.3">Ø25</text>
<path d="M514.2,791.5 L514.2,940.9 L675.2,940.9" stroke="#141414" stroke-width="4.4" fill="none" stroke-linecap="round" stroke-linejoin="miter"/>
<path d="M545.5,796.2 L676.5,796.2 Q681.5,796.4 683.4,800.5 L686.6,808.2" stroke="#141414" stroke-width="3.0" fill="none" stroke-linejoin="round"/>
<path d="M668,797 L679,797 L684.5,806.5 L682.6,803.2 L676,799.4 Z" stroke="#141414" stroke-width="0.8" fill="#141414" />
<path d="M545,800.4 C580,801.8 622,803.2 640,801.2 C652,799.8 660,798 670,797.4" stroke="#141414" stroke-width="2.9" fill="none" />
<path d="M543.5,799 Q543,796.2 547,796" stroke="#141414" stroke-width="3.0" fill="none" />
<line x1="566.5" y1="810.5" x2="684.0" y2="810.5" stroke="#141414" stroke-width="2.6" stroke-linecap="butt" />
<line x1="684.0" y1="810.5" x2="716.8" y2="810.5" stroke="#141414" stroke-width="1.1" stroke-linecap="butt" />
<path d="M662.8,810 L662.8,803.4 L681.8,802.6 M664.6,806.5 L684.6,806.5" stroke="#141414" stroke-width="2.2" fill="none" />
<path d="M573,820.6 C590,814.5 620,814.6 671.5,812.4" stroke="#141414" stroke-width="1.8" fill="none" />
<path d="M571.5,822.8 C590,821.8 620,823.6 676.6,823.0" stroke="#141414" stroke-width="2.2" fill="none" />
<path d="M683.4,810.5 C683.1,814.3 684.1,814.6 682.4,821.8 C680.7,829.0 682.6,825.0 678.3,832.2 C674.0,839.4 676.8,836.8 669.6,843.5 C662.4,850.2 666.7,847.5 656.6,852.2 C646.5,856.9 649.4,854.5 639.2,857.5 C629.0,860.5 633.0,858.5 626.1,861.2 C619.2,863.9 622.8,861.2 618.5,865.5 C614.2,869.8 616.1,867.1 613.2,874.0 C610.3,880.9 611.9,878.4 609.9,886.1 C607.9,893.8 609.3,890.7 607.2,897.0 C605.1,903.3 606.9,899.7 603.5,905.0 C600.1,910.3 601.5,908.6 597.0,912.8 C592.5,917.0 594.8,915.2 590.0,917.5 C585.2,919.8 587.7,918.8 582.7,919.8 C577.7,920.8 579.1,920.4 575.0,920.5 C570.9,920.6 573.5,921.0 570.5,920.0 C567.5,919.0 567.6,918.3 566.1,917.4" stroke="#141414" stroke-width="4.2" fill="none" stroke-linecap="round"/>
<path d="M520,883.3 L549.4,883.3 C550.6,894 554,904 560.9,914 L566.1,917.4" stroke="#141414" stroke-width="4.0" fill="none" stroke-linejoin="round"/>
<line x1="520.6" y1="851.0" x2="520.6" y2="885.0" stroke="#141414" stroke-width="2.4" stroke-linecap="butt" />
<path d="M516,920.4 L559.5,919.6 L566.1,917.4" stroke="#141414" stroke-width="4.4" fill="none" stroke-linejoin="round"/>
<path d="M551.8,834.5 C556,848 562,864 569.6,877.4 C574,885 577.4,892 578.8,898.2" stroke="#141414" stroke-width="4.4" fill="none" />
<path d="M516,803.1 L523.1,803.1 L526.5,804.8 L530,807.7 L535.7,809.6 L541.8,809.6 L544,807.9 L542.4,801 L546,799 L556,803 L565,806.5 L572.5,809.8 L566.8,811.6 L567.9,832.2 L564,834.4 L562.3,826 L560,826.5 L557.4,832.2 L552.2,835.7 L556.6,844.4 L566.1,867 L560.9,867 L552.2,853.1 L547,853.5 L537.4,855.3 L520,854.8 L520,851.4 L543.5,850.5 L545.3,847.9 L541.8,844.4 L534.8,840.1 L527,835.7 L527,832.2 L536.6,831.3 L552.2,831.3 L556.8,830.5 L556.6,821.8 L552.2,820.5 L536.6,818.3 L536.1,816.1 L526.5,816.1 L526.1,812.2 L523.5,808.7 L516,808.7 Z" stroke="#141414" stroke-width="0.6" fill="#141414" />
<rect x="527.6" y="817.6" width="7.6" height="14.2" rx="0" stroke="#141414" stroke-width="1.4" fill="#fff"/>
<path d="M547.5,801.8 L554.5,804.6 L553.2,806.8 L546.8,804.4 Z" stroke="none" stroke-width="0" fill="#fff" />
<path d="M558.6,815.6 L561.6,813.2 L561.2,818.2 Z" stroke="none" stroke-width="0" fill="#fff" />
<circle cx="553.0" cy="824.6" r="2.4" stroke="#141414" stroke-width="1.2" fill="#fff" />
<circle cx="553.6" cy="824.8" r="0.9" stroke="#141414" stroke-width="0" fill="#333" />
<path d="M567.9,832.2 L571,828.8 L572.2,824.6 L574,821.2" stroke="#141414" stroke-width="1.8" fill="none" />
<line x1="470.3" y1="815.4" x2="530.0" y2="815.4" stroke="#141414" stroke-width="1.2" stroke-linecap="butt" />
<line x1="470.3" y1="833.3" x2="528.0" y2="833.3" stroke="#141414" stroke-width="1.2" stroke-linecap="butt" />
<line x1="474.4" y1="772.0" x2="474.4" y2="847.4" stroke="#141414" stroke-width="1.2" stroke-linecap="butt" />
<polygon points="474.4,815.4 471.5,805.4 477.3,805.4" fill="#141414"/>
<polygon points="474.4,833.3 477.3,843.3 471.5,843.3" fill="#141414"/>
<text x="468.7" y="787.3" font-size="15.2" text-anchor="middle" fill="#141414" transform="rotate(-90 468.7 787.3)"  stroke="#141414" stroke-width="0.3">Ø55</text>
<line x1="444.0" y1="852.2" x2="521.0" y2="852.2" stroke="#141414" stroke-width="1.2" stroke-linecap="butt" />
<line x1="444.0" y1="885.1" x2="521.0" y2="885.1" stroke="#141414" stroke-width="1.2" stroke-linecap="butt" />
<line x1="448.6" y1="833.7" x2="448.6" y2="901.1" stroke="#141414" stroke-width="1.2" stroke-linecap="butt" />
<polygon points="448.6,852.2 445.7,842.2 451.5,842.2" fill="#141414"/>
<polygon points="448.6,885.1 451.5,895.1 445.7,895.1" fill="#141414"/>
<text x="442.4" y="869.1" font-size="15.2" text-anchor="middle" fill="#141414" transform="rotate(-90 442.4 869.1)"  stroke="#141414" stroke-width="0.3">Ø102</text>
<line x1="470.3" y1="922.9" x2="514.0" y2="922.9" stroke="#141414" stroke-width="1.2" stroke-linecap="butt" />
<line x1="470.3" y1="940.7" x2="514.0" y2="940.7" stroke="#141414" stroke-width="1.2" stroke-linecap="butt" />
<line x1="474.4" y1="904.6" x2="474.4" y2="959.4" stroke="#141414" stroke-width="1.2" stroke-linecap="butt" />
<polygon points="474.4,922.9 471.5,912.9 477.3,912.9" fill="#141414"/>
<polygon points="474.4,940.7 477.3,950.7 471.5,950.7" fill="#141414"/>
<text x="468.7" y="931.5" font-size="15.2" text-anchor="middle" fill="#141414" transform="rotate(-90 468.7 931.5)"  stroke="#141414" stroke-width="0.3">50</text>
<line x1="675.0" y1="940.9" x2="717.0" y2="940.9" stroke="#141414" stroke-width="1.1" stroke-linecap="butt" />
<line x1="713.1" y1="810.5" x2="713.1" y2="940.9" stroke="#141414" stroke-width="1.2" stroke-linecap="butt" />
<polygon points="713.1,810.5 716.0,820.5 710.2,820.5" fill="#141414"/>
<polygon points="713.1,940.9 710.2,930.9 716.0,930.9" fill="#141414"/>
<text x="706.4" y="876.0" font-size="15.2" text-anchor="middle" fill="#141414" transform="rotate(-90 706.4 876.0)"  stroke="#141414" stroke-width="0.3">400</text>
<path d="M873.2,781.9 L964.3,781.9" stroke="#141414" stroke-width="2.2" fill="none" />
<path d="M873.2,781.9 L865.5,836 C862,852 858.3,866 858.3,884 C858.3,922 886,951.6 918.3,951.6 C950.6,951.6 978.1,922 978.1,884 C978.1,866 974.5,852 971,836 L964.3,781.9" stroke="#141414" stroke-width="1.8" fill="none" />
<path d="M876.1,800.3 Q918.2,784.6 961.7,800.3" stroke="#141414" stroke-width="1.0" fill="none" />
<path d="M883.6,809.2 L954,809.2 C958.5,809.4 960.8,811 962.6,814.2 C969,827 975.9,856 975.9,884 C975.9,920.5 949.4,950.4 918.3,950.4 C887.2,950.4 860.4,920.5 860.4,884 C860.4,856 867.4,827 873.8,814.2 C875.6,811 878,809.4 883.6,809.2 Z" stroke="#141414" stroke-width="2.8" fill="none" />
<path d="M888,814.4 L949.8,814.4 C953.6,814.6 955.6,816 957,819 C963,832 969.5,858 969.5,884 C969.5,919 947.5,944.6 918.3,944.6 C889.1,944.6 866.6,919 866.6,884 C866.6,858 873.6,832 879.6,819 C881,816 883,814.6 888,814.4 Z" stroke="#141414" stroke-width="1.2" fill="none" />
<path d="M887,808.6 Q891,806.6 896.5,808.4" stroke="#141414" stroke-width="2.2" fill="none" />
<path d="M941,808.4 Q946.5,806.6 950.6,808.6" stroke="#141414" stroke-width="2.2" fill="none" />
<line x1="873.2" y1="748.6" x2="873.2" y2="781.9" stroke="#141414" stroke-width="1.2" stroke-linecap="butt" />
<line x1="964.3" y1="748.6" x2="964.3" y2="781.9" stroke="#141414" stroke-width="1.2" stroke-linecap="butt" />
<line x1="873.2" y1="753.2" x2="964.3" y2="753.2" stroke="#141414" stroke-width="1.2" stroke-linecap="butt" />
<polygon points="873.2,753.2 883.2,750.3 883.2,756.1" fill="#141414"/>
<polygon points="964.3,753.2 954.3,756.1 954.3,750.3" fill="#141414"/>
<text x="918.6" y="747.8" font-size="15.2" text-anchor="middle" fill="#141414"  stroke="#141414" stroke-width="0.3">280</text>
<line x1="964.3" y1="781.9" x2="1023.4" y2="781.9" stroke="#141414" stroke-width="1.1" stroke-linecap="butt" />
<line x1="931.0" y1="951.6" x2="1022.4" y2="951.6" stroke="#141414" stroke-width="1.1" stroke-linecap="butt" />
<line x1="1018.0" y1="781.9" x2="1018.0" y2="951.6" stroke="#141414" stroke-width="1.2" stroke-linecap="butt" />
<polygon points="1018.0,781.9 1020.9,791.9 1015.1,791.9" fill="#141414"/>
<polygon points="1018.0,951.6 1015.1,941.6 1020.9,941.6" fill="#141414"/>
<text x="1013.6" y="869.6" font-size="15.2" text-anchor="middle" fill="#141414" transform="rotate(-90 1013.6 869.6)"  stroke="#141414" stroke-width="0.3">525</text>
<line x1="858.2" y1="884.0" x2="858.2" y2="992.8" stroke="#141414" stroke-width="1.2" stroke-linecap="butt" />
<line x1="978.1" y1="884.0" x2="978.1" y2="992.8" stroke="#141414" stroke-width="1.2" stroke-linecap="butt" />
<line x1="858.2" y1="989.4" x2="978.1" y2="989.4" stroke="#141414" stroke-width="1.2" stroke-linecap="butt" />
<polygon points="858.2,989.4 868.2,986.5 868.2,992.3" fill="#141414"/>
<polygon points="978.1,989.4 968.1,992.3 968.1,986.5" fill="#141414"/>
<text x="918.4" y="984.4" font-size="15.2" text-anchor="middle" fill="#141414"  stroke="#141414" stroke-width="0.3">370</text>
</svg>
</body></html>
